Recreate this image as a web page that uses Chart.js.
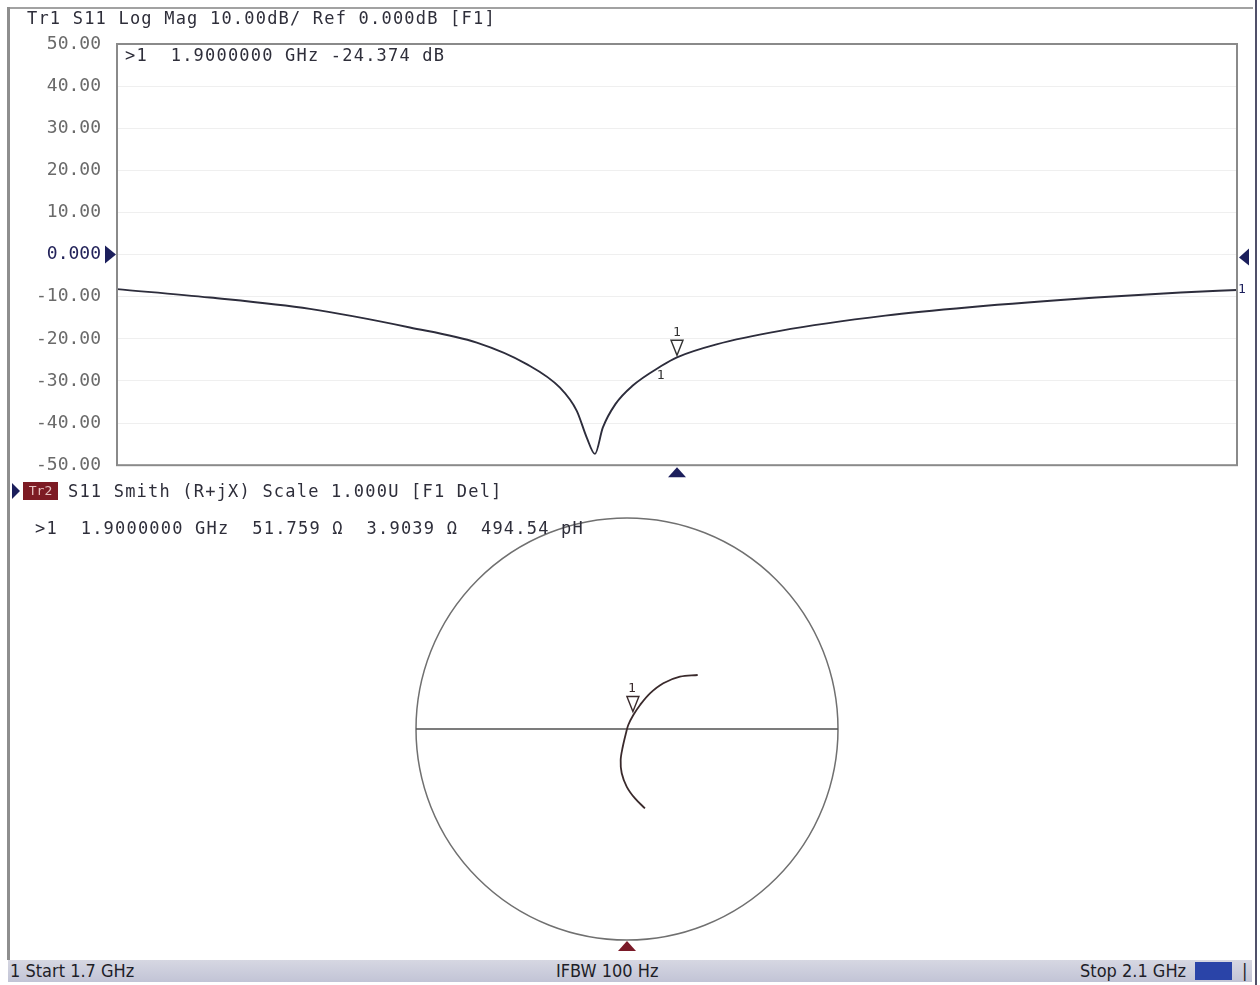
<!DOCTYPE html>
<html>
<head>
<meta charset="utf-8">
<script src="https://cdn.jsdelivr.net/npm/chart.js@4.4.1/dist/chart.umd.min.js"></script>
<style>
body{margin:0;background:#fff;width:1260px;height:985px;overflow:hidden;position:relative;font-family:"DejaVu Sans Mono",monospace}
.t{position:absolute;white-space:pre;font-size:17px;letter-spacing:1.2px;line-height:20px;color:#2e2e3a}
.ln{position:absolute}
canvas{position:absolute;left:0}
#status{position:absolute;left:8px;top:960px;width:1244px;height:22px;background:linear-gradient(#d6d7e2,#c2c4d6);font-family:"Liberation Sans Narrow","DejaVu Sans Condensed",sans-serif;font-size:18px;line-height:22px;color:#1e1e28}
#status span{position:absolute;white-space:pre}
</style>
</head>
<body>
<div class="ln" style="left:7px;top:7px;width:1246px;height:2px;background:#a2a2a2"></div>
<div class="ln" style="left:7px;top:7px;width:3px;height:953px;background:#8e8e8e"></div>
<div class="ln" style="left:1255px;top:0;width:2px;height:985px;background:#50506a"></div>

<canvas id="mag" width="1260" height="492" style="top:0"></canvas>
<canvas id="smith" width="1260" height="480" style="top:480px"></canvas>

<div class="t" style="left:27px;top:8px">Tr1 S11 Log Mag 10.00dB/ Ref 0.000dB [F1]</div>
<div class="t" style="left:125px;top:45px">&gt;1  1.9000000 GHz -24.374 dB</div>

<div class="ln" style="left:12px;top:483px;width:0;height:0;border-top:8px solid transparent;border-bottom:8px solid transparent;border-left:8px solid #1c1f5c"></div>
<div class="ln" style="left:23px;top:482px;width:35px;height:18px;background:#7d1b24;color:#e6c0c0;font-size:13px;line-height:18px;text-align:center">Tr2</div>
<div class="t" style="left:68px;top:481px">S11 Smith (R+jX) Scale 1.000U [F1 Del]</div>
<div class="t" style="left:35px;top:518px">&gt;1  1.9000000 GHz  51.759 Ω  3.9039 Ω  494.54 pH</div>

<div id="status">
  <span style="left:2px">1 Start 1.7 GHz</span>
  <span style="left:548px">IFBW 100 Hz</span>
  <span style="left:1072px">Stop 2.1 GHz</span>
  <span style="left:1187px;top:2px;width:37px;height:18px;background:#2a44a8"></span>
  <span style="left:1234px">|</span>
</div>

<script>
// sweep 1.7 - 2.1 GHz, S11 log magnitude (dB)
var freqGHz = [1.700, 1.7332, 1.7689, 1.8046, 1.8285, 1.8463, 1.8582, 1.8642, 1.8678, 1.8707,
               1.8735, 1.878, 1.884, 1.8945, 1.900, 1.9141, 1.9368, 1.9744, 2.0045, 2.0497, 2.0799, 2.100];
var s11dB   = [-8.2, -10.2, -12.9, -17.3, -20.9, -26.0, -31.6, -37.1, -43.5, -47.3,
               -41.1, -35.5, -31.2, -26.4, -24.374, -21.3, -18.1, -14.5, -12.5, -10.2, -9.0, -8.4];

// same sweep on the Smith chart (reflection coefficient, start -> stop)
var smithRe = [0.085, 0.038, -0.001, -0.025, -0.030, -0.020, -0.005, 0.006, 0.030, 0.062, 0.109, 0.172, 0.251, 0.335];
var smithIm = [-0.376, -0.329, -0.274, -0.210, -0.147, -0.084, -0.020, 0.019, 0.066, 0.114, 0.169, 0.217, 0.248, 0.256];

var yTicks = [50, 40, 30, 20, 10, 0, -10, -20, -30, -40, -50];
var refLevel = 0;
var markerFreq = 1.9;
var markerDb = -24.374;
var markerGamma = [0.028, 0.078];

function tri(ctx, pts, fill, stroke) {
  ctx.beginPath();
  ctx.moveTo(pts[0][0], pts[0][1]);
  for (var i = 1; i < pts.length; i++) ctx.lineTo(pts[i][0], pts[i][1]);
  ctx.closePath();
  if (fill) { ctx.fillStyle = fill; ctx.fill(); }
  if (stroke) { ctx.strokeStyle = stroke; ctx.lineWidth = 1.4; ctx.stroke(); }
}

var magDecor = {
  id: 'magDecor',
  afterDraw: function(chart) {
    var ctx = chart.ctx, a = chart.chartArea, x = chart.scales.x, y = chart.scales.y;
    ctx.save();
    ctx.strokeStyle = '#8a8a8a';
    ctx.lineWidth = 2;
    ctx.strokeRect(a.left, a.top, a.right - a.left, a.bottom - a.top);

    var y0 = y.getPixelForValue(refLevel);
    tri(ctx, [[a.left - 12, y0 - 9], [a.left - 1, y0], [a.left - 12, y0 + 9]], '#1c1f5c');
    tri(ctx, [[a.right + 12, y0 - 6], [a.right + 2, y0 + 3], [a.right + 12, y0 + 11]], '#1c1f5c');

    var mx = x.getPixelForValue(markerFreq), my = y.getPixelForValue(markerDb);
    tri(ctx, [[mx - 6, my - 17], [mx + 6, my - 17], [mx, my - 2]], '#fff', '#333');
    ctx.fillStyle = '#333';
    ctx.font = '13px "DejaVu Sans Mono"';
    ctx.textAlign = 'center';
    ctx.textBaseline = 'middle';
    ctx.fillText('1', mx, my - 25);
    ctx.fillText('1', x.getPixelForValue(1.8945) - 1, my + 18);
    tri(ctx, [[mx - 9, a.bottom + 12], [mx + 9, a.bottom + 12], [mx, a.bottom + 2]], '#1c1f5c');

    ctx.textAlign = 'left';
    ctx.fillText('1', a.right + 1, y.getPixelForValue(s11dB[s11dB.length - 1]));
    ctx.restore();
  }
};

new Chart(document.getElementById('mag'), {
  type: 'line',
  data: {
    datasets: [{
      data: freqGHz.map(function(f, i) { return {x: f, y: s11dB[i]}; }),
      borderColor: '#2d2d3c',
      borderWidth: 1.9,
      pointRadius: 0,
      cubicInterpolationMode: 'monotone'
    }]
  },
  options: {
    responsive: false,
    animation: false,
    layout: {padding: {top: 44, right: 23, bottom: 3, left: 0}},
    plugins: {legend: {display: false}, tooltip: {enabled: false}},
    scales: {
      x: {type: 'linear', min: 1.7, max: 2.1, display: false},
      y: {
        min: -50, max: 50,
        afterFit: function(s) { s.width = 117; },
        afterBuildTicks: function(s) { s.ticks = yTicks.map(function(v) { return {value: v}; }); },
        border: {display: false},
        grid: {
          drawTicks: false,
          color: function(c) { return Math.abs(c.tick.value) === 50 ? 'rgba(0,0,0,0)' : '#efefef'; }
        },
        ticks: {
          padding: 16,
          font: {family: 'DejaVu Sans Mono', size: 18},
          color: function(c) { return c.tick.value === 0 ? '#23235a' : '#6a6a6a'; },
          callback: function(v) { return v === 0 ? '0.000' : v.toFixed(2); }
        }
      }
    }
  },
  plugins: [magDecor]
});

var smithDecor = {
  id: 'smithDecor',
  beforeDatasetsDraw: function(chart) {
    var ctx = chart.ctx, x = chart.scales.x, y = chart.scales.y;
    var cx = x.getPixelForValue(0), cy = y.getPixelForValue(0), r = x.getPixelForValue(1) - cx;
    ctx.save();
    ctx.strokeStyle = '#707070';
    ctx.lineWidth = 1.5;
    ctx.beginPath();
    ctx.arc(cx, cy, r, 0, Math.PI * 2);
    ctx.stroke();
    ctx.strokeStyle = '#505050';
    ctx.beginPath();
    ctx.moveTo(x.getPixelForValue(-1), cy);
    ctx.lineTo(x.getPixelForValue(1), cy);
    ctx.stroke();
    ctx.restore();
  },
  afterDraw: function(chart) {
    var ctx = chart.ctx, x = chart.scales.x, y = chart.scales.y;
    var mx = x.getPixelForValue(markerGamma[0]), my = y.getPixelForValue(markerGamma[1]);
    ctx.save();
    tri(ctx, [[mx - 6, my - 16], [mx + 6, my - 16], [mx, my - 1]], null, '#3a2a2c');
    ctx.fillStyle = '#3a2a2c';
    ctx.font = '13px "DejaVu Sans Mono"';
    ctx.textAlign = 'center';
    ctx.textBaseline = 'middle';
    ctx.fillText('1', mx - 1, my - 24);
    var bx = x.getPixelForValue(0), by = y.getPixelForValue(-1);
    tri(ctx, [[bx - 9, by + 11], [bx + 9, by + 11], [bx, by + 1]], '#7a1a28');
    ctx.restore();
  }
};

new Chart(document.getElementById('smith'), {
  type: 'scatter',
  data: {
    datasets: [{
      data: smithRe.map(function(re, i) { return {x: re, y: smithIm[i]}; }),
      showLine: true,
      borderColor: '#3a2a2c',
      borderWidth: 1.8,
      pointRadius: 0,
      tension: 0.35
    }]
  },
  options: {
    responsive: false,
    animation: false,
    layout: {padding: {top: 38, right: 422, bottom: 20, left: 416}},
    plugins: {legend: {display: false}, tooltip: {enabled: false}},
    scales: {
      x: {min: -1, max: 1, display: false},
      y: {min: -1, max: 1, display: false}
    }
  },
  plugins: [smithDecor]
});
</script>
</body>
</html>
